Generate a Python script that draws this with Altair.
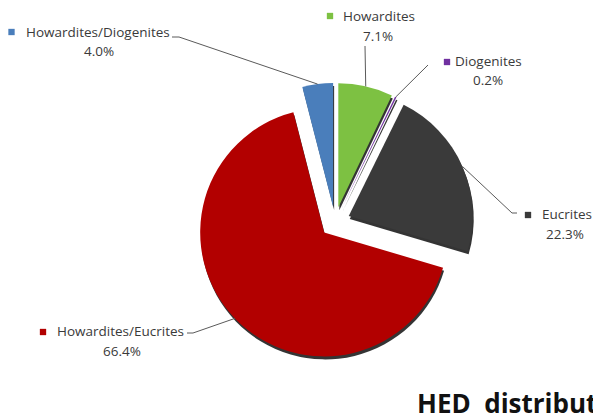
import altair as alt
import pandas as pd

# ---- data ----
categories = ["Howardites", "Diogenites", "Eucrites", "Howardites/Eucrites", "Howardites/Diogenites"]
percents = [7.1, 0.2, 22.3, 66.4, 4.0]
title_text = "HED\u00a0\u00a0distribution"

# ---- styles ----
colors = ["#7dc142", "#7030a0", "#3a3a3a", "#b20000", "#4a7ebb"]

# ---- layout (pixels) ----
CX, CY, R, EXPLODE = 335, 222, 124, 15
square_x = [330, 447, 528, 43, 11.5]
square_y = [16, 62, 215, 332, 32]
name_x = [343, 455, 542, 57, 26]
name_y = [17, 62, 215, 332, 33]
pct_x = [378, 488, 565, 122, 99]
pct_y = [37, 81, 235, 352, 52]
elbow_x = [365, 428, 512, 193, 179]
elbow_y = [46, 65, 213, 333, 37]
end_x = [365, 428, 517, 187, 172]
end_y = [46, 65, 213, 333, 37]

df = pd.DataFrame({
    "cat": categories, "pct": percents, "order": list(range(len(categories))),
    "sq_x": square_x, "sq_y": square_y, "nm_x": name_x, "nm_y": name_y,
    "pc_x": pct_x, "pc_y": pct_y, "el_x": elbow_x, "el_y": elbow_y,
    "en_x": end_x, "en_y": end_y,
})

base = (
    alt.Chart(df)
    .transform_window(cum="sum(pct)", sort=[alt.SortField("order")], frame=[None, 0])
    .transform_joinaggregate(total="sum(pct)")
    .transform_calculate(
        t1="2*PI*datum.cum/datum.total",
        t0="2*PI*(datum.cum-datum.pct)/datum.total",
    )
    .transform_calculate(mid="(datum.t0+datum.t1)/2")
    .transform_calculate(
        cx=f"{CX}+{EXPLODE}*sin(datum.mid)",
        cy=f"{CY}-{EXPLODE}*cos(datum.mid)",
        plabel="format(datum.pct,'.1f')+'%'",
    )
    .transform_calculate(
        ex=f"datum.cx+{R}*sin(datum.mid)",
        ey=f"datum.cy-{R}*cos(datum.mid)",
    )
)

color_enc = alt.Color("cat:N", scale=alt.Scale(domain=categories, range=colors), legend=None)

def X(f):
    return alt.X(f, scale=None, axis=None)

def Y(f):
    return alt.Y(f, scale=None, axis=None)

shadow = base.mark_arc(outerRadius=R, xOffset=1, yOffset=3, color="#111111", opacity=0.85).encode(
    theta=alt.Theta("t0:Q", scale=None, stack=None), theta2=alt.Theta2("t1:Q"),
    x=X("cx:Q"), y=Y("cy:Q"),
)
slices = base.mark_arc(outerRadius=R).encode(
    theta=alt.Theta("t0:Q", scale=None, stack=None), theta2=alt.Theta2("t1:Q"),
    x=X("cx:Q"), y=Y("cy:Q"), color=color_enc,
)
lead1 = base.mark_rule(color="#5a5a5a", strokeWidth=1).encode(
    x=X("ex:Q"), y=Y("ey:Q"), x2="el_x:Q", y2="el_y:Q"
)
lead2 = base.mark_rule(color="#5a5a5a", strokeWidth=1).encode(
    x=X("el_x:Q"), y=Y("el_y:Q"), x2="en_x:Q", y2="en_y:Q"
)
squares = base.mark_square(size=40, opacity=1).encode(
    x=X("sq_x:Q"), y=Y("sq_y:Q"), color=color_enc
)
names = base.mark_text(align="left", baseline="middle", font="Open Sans", fontSize=13.5, color="#3a3a3a").encode(
    x=X("nm_x:Q"), y=Y("nm_y:Q"), text="cat:N"
)
pcts = base.mark_text(align="center", baseline="middle", font="Open Sans", fontSize=13.5, color="#3a3a3a").encode(
    x=X("pc_x:Q"), y=Y("pc_y:Q"), text="plabel:N"
)
title = alt.Chart(pd.DataFrame({"t": [title_text]})).mark_text(
    align="left", baseline="alphabetic", font="Open Sans", fontSize=26, fontWeight="bold", color="#111111"
).encode(x=alt.value(417), y=alt.value(413), text="t:N")

chart = alt.layer(shadow, slices, lead1, lead2, squares, names, pcts, title).properties(
    width=593, height=417, autosize=alt.AutoSizeParams(type="none"), padding=0,
    background="white",
).configure_view(stroke=None)

chart.save("out.html", embed_options={"renderer": "svg", "actions": False})
